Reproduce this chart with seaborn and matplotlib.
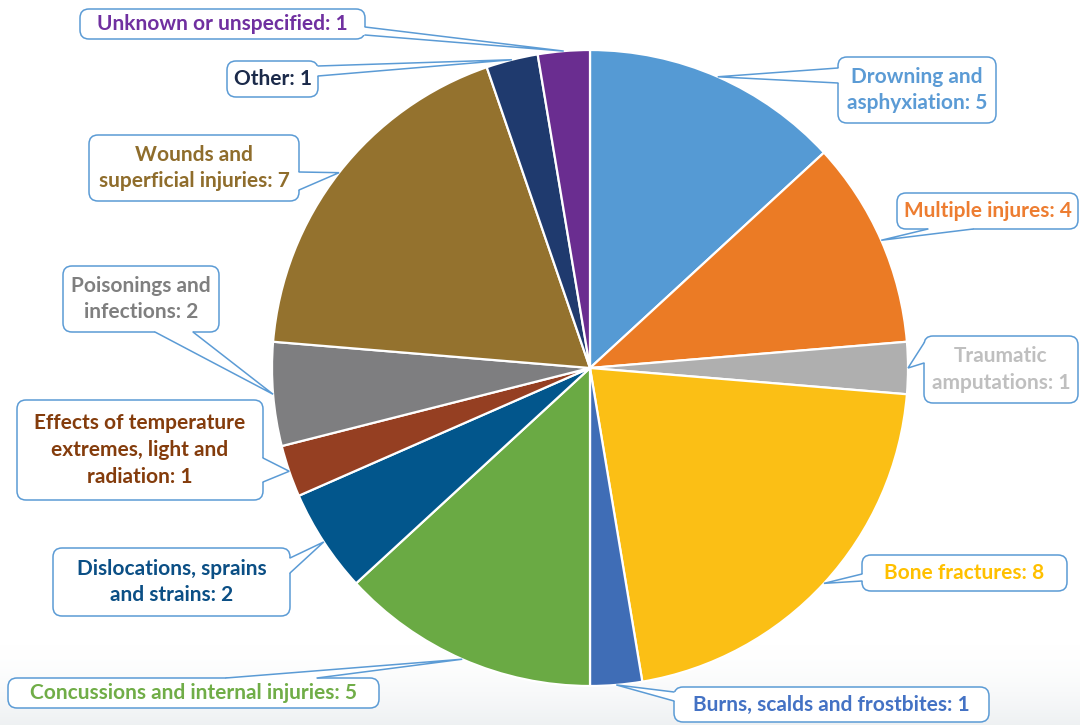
import numpy as np
import matplotlib
matplotlib.use("Agg")
import matplotlib.pyplot as plt
from matplotlib.patches import FancyBboxPatch, Polygon
import seaborn as sns

# Injury categories and case counts
categories = [
    "Drowning and\nasphyxiation",
    "Multiple injures",
    "Traumatic\namputations",
    "Bone fractures",
    "Burns, scalds and frostbites",
    "Concussions and internal injuries",
    "Dislocations, sprains\nand strains",
    "Effects of temperature\nextremes, light and\nradiation",
    "Poisonings and\ninfections",
    "Wounds and\nsuperficial injuries",
    "Other",
    "Unknown or unspecified",
]
counts = [5, 4, 1, 8, 1, 5, 2, 1, 2, 7, 1, 1]

slice_colors = sns.color_palette([
    "#559AD4", "#EB7B25", "#AFAFAF", "#FBBF15", "#3F6DB6", "#6AAA44",
    "#02568C", "#953F22", "#7E7E80", "#94722E", "#1F3A6E", "#6A2D90",
])
label_colors = [
    "#5B9BD5", "#ED7D31", "#BFBFBF", "#FFC000", "#4472C4", "#70AD47",
    "#0B4F85", "#843C0C", "#7F7F7F", "#8F6D2C", "#1B2A4A", "#7030A0",
]

sns.set_theme(style="white")
plt.rcParams["font.family"] = ["Lato", "DejaVu Sans"]

W, H = 1080, 725
CX, CY, R = 590, 368, 318
EDGE = "#5B9BD5"

fig = plt.figure(figsize=(W / 100, H / 100), dpi=100)
ax = fig.add_axes([0, 0, 1, 1])

# faint haze along the bottom edge (white at top, light grey at bottom)
grad = np.linspace(0, 1, 100)[:, None, None] ** 1.6
base = np.array([0.935, 0.945, 0.952])
haze = 1 - grad * (1 - base)[None, None, :] * np.ones((100, 2, 3))
ax.imshow(haze, extent=(0, W, 0, 80), aspect="auto", zorder=0)

wedges, _ = ax.pie(
    counts, colors=slice_colors, startangle=90, counterclock=False,
    center=(CX, H - CY), radius=R,
    wedgeprops=dict(edgecolor="white", linewidth=1.6),
)
for w in wedges:
    w.set_zorder(2)

# callout boxes: (left, top, right, bottom) in pixels, plus tail base points
callouts = [
    ((838, 57, 996, 123), [(838, 68), (838, 83)]),
    ((897, 193, 1078, 229), [(928, 229), (973, 229)]),
    ((924, 336, 1078, 403), [(924, 343), (924, 363)]),
    ((862, 555, 1067, 591), [(862, 574), (862, 581)]),
    ((674, 687, 989, 722), [(674, 692), (674, 701)]),
    ((8, 678, 379, 708), [(226, 678), (317, 678)]),
    ((53, 548, 290, 616), [(290, 558), (290, 573)]),
    ((17, 400, 263, 500), [(263, 458), (263, 482)]),
    ((63, 266, 219, 332), [(155, 332), (193, 332)]),
    ((89, 135, 299, 201), [(299, 172), (299, 190)]),
    ((227, 61, 318, 97), [(318, 66), (318, 76)]),
    ((80, 9, 365, 39), [(365, 27), (365, 35)]),
]


def flip(p):
    return (p[0], H - p[1])


for w, name, n, col, (box, bases) in zip(wedges, categories, counts, label_colors, callouts):
    x0, y0, x1, y1 = box
    mid = np.deg2rad((w.theta1 + w.theta2) / 2)
    tip = (CX + R * np.cos(mid), (H - CY) + R * np.sin(mid))

    ax.add_patch(FancyBboxPatch(
        (x0, H - y1), x1 - x0, y1 - y0,
        boxstyle="round,pad=0,rounding_size=9",
        fc="white", ec=EDGE, lw=1.1, zorder=3,
    ))

    b1, b2 = bases
    if b1[0] == x0 and b2[0] == x0:
        d = (3, 0)
    elif b1[0] == x1 and b2[0] == x1:
        d = (-3, 0)
    elif b1[1] == y0:
        d = (0, 3)
    else:
        d = (0, -3)
    inner1 = (b1[0] + d[0], b1[1] + d[1])
    inner2 = (b2[0] + d[0], b2[1] + d[1])
    fb1, fb2 = flip(b1), flip(b2)
    ax.add_patch(Polygon(
        [flip(inner1), fb1, tip, fb2, flip(inner2)],
        closed=True, fc="white", ec="none", zorder=4,
    ))
    ax.plot([fb1[0], tip[0], fb2[0]], [fb1[1], tip[1], fb2[1]],
            color=EDGE, lw=1.1, zorder=5, solid_joinstyle="miter")

    ax.text((x0 + x1) / 2, H - (y0 + y1) / 2, f"{name}: {n}",
            ha="center", va="center", multialignment="center",
            fontsize=15, fontweight="bold", color=col,
            linespacing=1.42, zorder=6)

ax.set_xlim(0, W)
ax.set_ylim(0, H)
ax.set_aspect("equal")
ax.axis("off")

fig.savefig("out.png", dpi=100)
